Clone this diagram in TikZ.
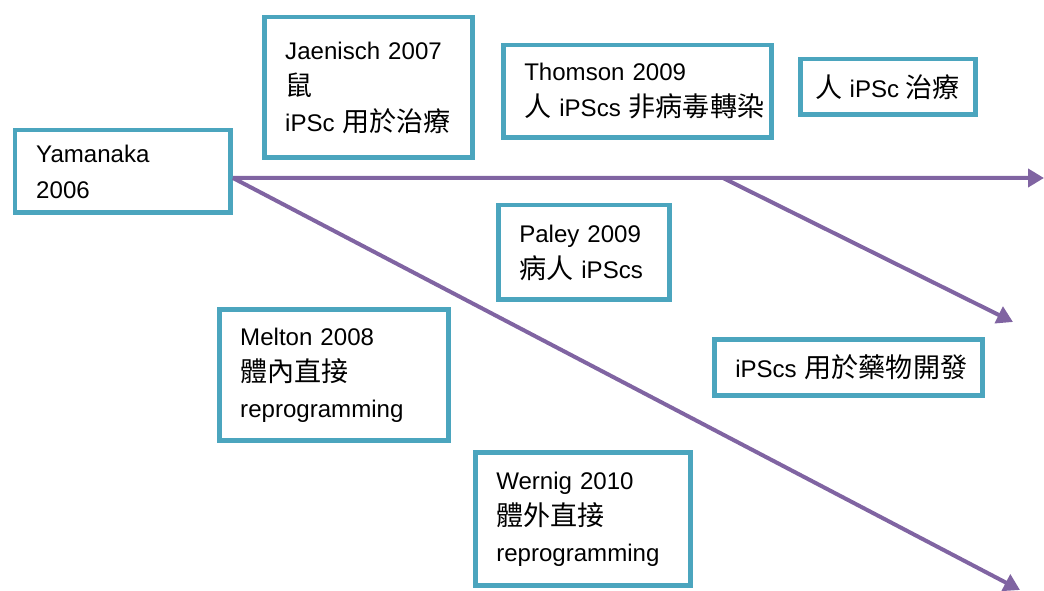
\documentclass[tikz,border=0pt]{standalone}
\usepackage{fontspec}
\setmainfont{Liberation Sans}
\newfontfamily\cjkfont{Noto Sans CJK TC}
\usetikzlibrary{arrows.meta}
\definecolor{boxteal}{RGB}{75,165,190}
\definecolor{flowpurple}{RGB}{128,100,162}
\newcommand{\zh}[1]{{\cjkfont\fontsize{15.4}{20.5}\selectfont #1}}
\hyphenpenalty=10000
\exhyphenpenalty=10000

\begin{document}
\begin{tikzpicture}[x=0.02cm,y=-0.02cm,
  box/.style={draw=boxteal,line width=0.09cm,anchor=north west,inner xsep=0.42cm,inner ysep=0pt,align=left,font=\fontsize{13.7}{20.5}\selectfont},
  flow/.style={draw=flowpurple,line width=0.08cm,-{Triangle[length=0.32cm,width=0.36cm]}}]
\useasboundingbox (0,0) rectangle (1044,591);
\draw (13,128) node[box,text width=3.47cm,minimum height=1.65cm](yamanaka) {Yamanaka\\2006};
\draw (262,15) node[box,text width=3.33cm,minimum height=2.81cm](jaenisch) {Jaenisch~2007\\\zh{鼠}\\iPSc~\zh{用於治療}};
\draw (501,43) node[box,text width=4.53cm,minimum height=1.85cm](thomson) {Thomson~2009\\\mbox{\zh{人}~iPScs~\zh{非病毒轉染}}};
\draw (798,57) node[box,inner xsep=0.1cm,align=center,minimum width=3.51cm,minimum height=1.11cm](therapy) {\zh{人}~iPSc~\zh{治療}};
\draw (496,203) node[box,text width=2.59cm,minimum height=1.89cm](paley) {Paley~2009\\\zh{病人}~iPScs};
\draw (217,307) node[box,text width=3.75cm,minimum height=2.63cm](melton) {Melton~2008\\\zh{體內直接}\\reprogramming};
\draw (473,450) node[box,text width=3.47cm,minimum height=2.67cm](wernig) {Wernig~2010\\\zh{體外直接}\\reprogramming};
\draw (712,337) node[box,text width=4.53cm,minimum height=1.13cm](drugs) {\mbox{iPScs~\zh{用於藥物開發}}};
\coordinate (root) at ([yshift=-0.13cm]yamanaka.east);
\coordinate (fork) at (723,178);
\coordinate (humanend) at (1044,178);
\coordinate (drugend) at (1013,322);
\coordinate (directend) at (1020,590);
\draw[flow] (root) -- (humanend);
\draw[flow] (fork) -- (drugend);
\draw[flow] (root) -- (directend);
\end{tikzpicture}
\end{document}
